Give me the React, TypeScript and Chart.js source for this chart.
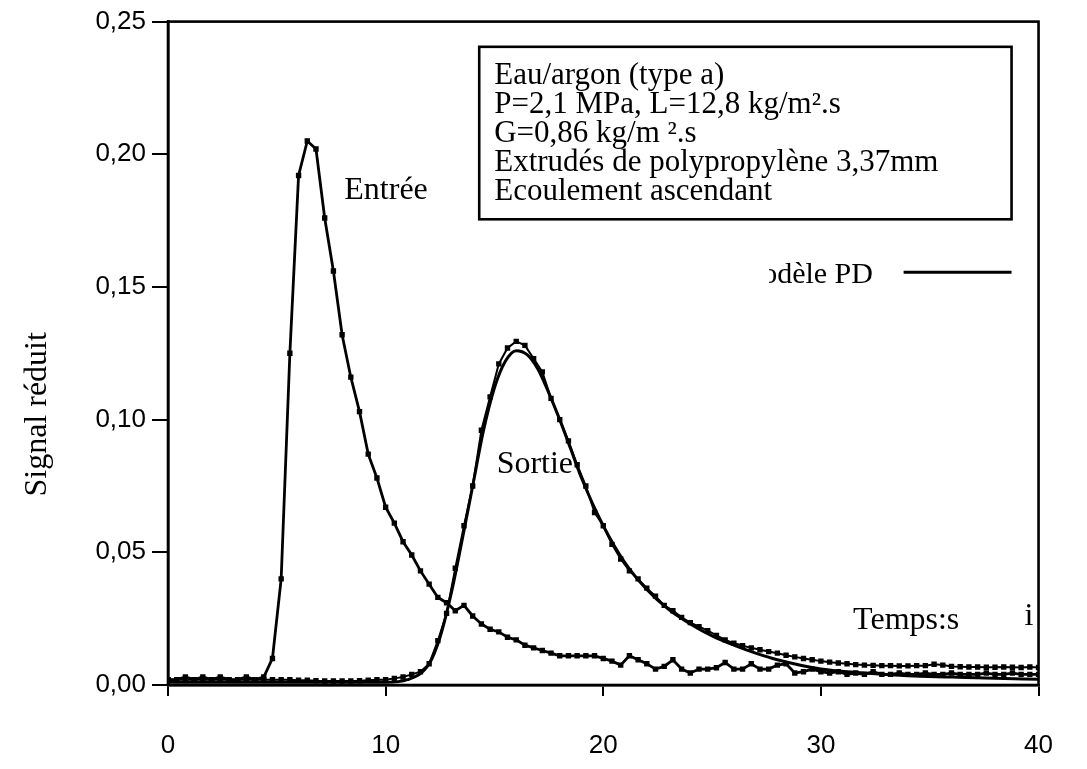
import React, { useEffect, useRef } from 'react';
import { Chart, registerables } from 'chart.js';

Chart.register(...registerables);

// Sampling grid of the measured signals (s)
const SAMPLE_STEP = 0.4;
const sampleTimes = Array.from({ length: 101 }, (_, i) => Math.round(i * SAMPLE_STEP * 10) / 10);

// Entrée (input) measured signal, one value per sample time
const entreeValues = [
  0.002, 0.002, 0.003, 0.002, 0.003, 0.002, 0.003, 0.002, 0.002, 0.003,
  0.002, 0.003, 0.010, 0.040, 0.125, 0.192, 0.205, 0.202, 0.176, 0.156,
  0.132, 0.116, 0.103, 0.087, 0.078, 0.067, 0.061, 0.054, 0.049, 0.043,
  0.038, 0.033, 0.031, 0.028, 0.030, 0.026, 0.023, 0.021, 0.020, 0.018,
  0.017, 0.015, 0.014, 0.013, 0.012, 0.011, 0.011, 0.011, 0.011, 0.011,
  0.010, 0.009, 0.0075, 0.011, 0.0095, 0.008, 0.006, 0.007, 0.0095, 0.006,
  0.0045, 0.006, 0.006, 0.0065, 0.0085, 0.006, 0.006, 0.008, 0.006, 0.006,
  0.0075, 0.008, 0.0045, 0.005, 0.006, 0.005, 0.0045, 0.005, 0.004, 0.0045,
  0.004, 0.005, 0.004, 0.004, 0.0045, 0.004, 0.004, 0.0045, 0.004, 0.004,
  0.0045, 0.004, 0.004, 0.004, 0.0045, 0.004, 0.004, 0.0045, 0.004, 0.004,
  0.004,
];

// Sortie (output) measured signal, one value per sample time
const sortieValues = [
  0.002, 0.002, 0.002, 0.002, 0.002, 0.002, 0.002, 0.002, 0.002, 0.002,
  0.002, 0.002, 0.002, 0.002, 0.002, 0.0018, 0.0018, 0.0016, 0.0015, 0.0015,
  0.0015, 0.0015, 0.0016, 0.0018, 0.002, 0.002, 0.0025, 0.003, 0.004, 0.005,
  0.008, 0.0167, 0.027, 0.044, 0.060, 0.075, 0.096, 0.1086, 0.121, 0.127,
  0.1295, 0.128, 0.123, 0.118, 0.108, 0.100, 0.092, 0.083, 0.075, 0.065,
  0.060, 0.053, 0.0475, 0.043, 0.040, 0.0365, 0.0335, 0.030, 0.028, 0.0255,
  0.0235, 0.022, 0.0205, 0.0187, 0.017, 0.0158, 0.0148, 0.014, 0.0133, 0.0126,
  0.012, 0.0112, 0.0106, 0.010, 0.0095, 0.009, 0.0086, 0.0083, 0.008, 0.0077,
  0.0075, 0.0074, 0.0073, 0.0073, 0.0072, 0.0072, 0.0073, 0.0073, 0.0078, 0.0075,
  0.007, 0.0069, 0.0068, 0.0068, 0.0067, 0.0067, 0.0068, 0.0067, 0.0066, 0.0068,
  0.0066,
];

// Modèle PD (model curve for the output)
const modelTimes = [0, 10, 11, 12, 12.5, 13, 13.5, 14, 14.5, 15, 15.5, 16, 16.5, 17, 17.5, 18, 18.5, 19, 20, 21, 22, 23, 24, 25, 26, 27, 28, 30, 32, 34, 36, 38, 40];
const modelValues = [0.001, 0.001, 0.002, 0.008, 0.018, 0.034, 0.054, 0.075, 0.096, 0.112, 0.122, 0.126, 0.1245, 0.119, 0.110, 0.100, 0.089, 0.078, 0.060, 0.046, 0.036, 0.0285, 0.023, 0.0185, 0.015, 0.012, 0.0095, 0.006, 0.0045, 0.0035, 0.003, 0.0025, 0.0022];

const xTickValues = [0, 10, 20, 30, 40];
const yTickValues = [0, 0.05, 0.1, 0.15, 0.2, 0.25];

const yTitle = 'Signal réduit';
const infoLines = [
  'Eau/argon (type a)',
  'P=2,1 MPa, L=12,8 kg/m².s',
  'G=0,86 kg/m ².s',
  'Extrudés de polypropylène 3,37mm',
  'Ecoulement ascendant',
];
const legendText = 'odèle PD';
const entreeLabel = 'Entrée';
const sortieLabel = 'Sortie';
const timeLabel = 'Temps:s';

const SERIF = '"Liberation Serif", "Times New Roman", serif';
const SANS = '"Liberation Sans", Arial, Helvetica, sans-serif';

const decorPlugin = {
  id: 'decor',
  afterDraw(chart: any) {
    const { ctx, chartArea: a, scales } = chart;
    const xs = scales.x;
    const ys = scales.y;
    const px = (v: number) => xs.getPixelForValue(v);
    const py = (v: number) => ys.getPixelForValue(v);
    ctx.save();
    ctx.strokeStyle = '#000';
    ctx.fillStyle = '#000';
    ctx.lineWidth = 2.6;
    ctx.strokeRect(a.left, a.top, a.right - a.left, a.bottom - a.top);

    // y-axis title
    ctx.save();
    ctx.font = `32px ${SERIF}`;
    ctx.translate(38, py(0.102));
    ctx.rotate(-Math.PI / 2);
    ctx.textAlign = 'center';
    ctx.textBaseline = 'middle';
    ctx.fillText(yTitle, 0, 0);
    ctx.restore();

    // curve labels
    ctx.font = `32px ${SERIF}`;
    ctx.textAlign = 'left';
    ctx.textBaseline = 'alphabetic';
    ctx.fillText(entreeLabel, px(8.1), py(0.183));
    ctx.fillText(sortieLabel, px(15.1), py(0.080));
    ctx.fillText(timeLabel, px(31.48), py(0.0211));
    ctx.fillText('i', px(39.35), py(0.0225));

    // info box
    const bl = px(14.3), br = px(38.76), bt = py(0.2405), bb = py(0.1755);
    ctx.lineWidth = 2.6;
    ctx.strokeRect(bl, bt, br - bl, bb - bt);
    ctx.font = `31px ${SERIF}`;
    infoLines.forEach((line, i) => {
      ctx.fillText(line, bl + 15, bt + 37 + i * 29);
    });

    // legend (partially hidden text + line sample)
    ctx.save();
    ctx.beginPath();
    ctx.rect(px(27.62), py(0.18), px(40) - px(27.62), py(0.12) - py(0.18));
    ctx.clip();
    ctx.font = `30px ${SERIF}`;
    ctx.fillText(legendText, px(27.3), py(0.1515));
    ctx.restore();
    ctx.beginPath();
    ctx.lineWidth = 3;
    ctx.moveTo(px(33.8), py(0.1555));
    ctx.lineTo(px(38.76), py(0.1555));
    ctx.stroke();
    ctx.restore();
  },
};

export default function App() {
  const canvasRef = useRef<HTMLCanvasElement | null>(null);

  useEffect(() => {
    if (!canvasRef.current) return;
    const entreeData = sampleTimes.map((t, i) => ({ x: t, y: entreeValues[i] }));
    const sortieData = sampleTimes.map((t, i) => ({ x: t, y: sortieValues[i] }));
    const modelData = modelTimes.map((t, i) => ({ x: t, y: modelValues[i] }));

    const chart = new Chart(canvasRef.current, {
      type: 'scatter',
      data: {
        datasets: [
          {
            label: 'Modèle PD',
            data: modelData,
            showLine: true,
            borderColor: '#000',
            borderWidth: 3,
            pointRadius: 0,
            cubicInterpolationMode: 'monotone',
            order: 3,
          },
          {
            label: 'Sortie',
            data: sortieData,
            showLine: true,
            borderColor: '#000',
            borderWidth: 2,
            pointStyle: 'rect',
            pointRadius: 3.8,
            pointBackgroundColor: '#000',
            pointBorderColor: '#000',
            pointBorderWidth: 0,
            order: 2,
          },
          {
            label: 'Entrée',
            data: entreeData,
            showLine: true,
            borderColor: '#000',
            borderWidth: 2.8,
            pointStyle: 'rect',
            pointRadius: 3.8,
            pointBackgroundColor: '#000',
            pointBorderColor: '#000',
            pointBorderWidth: 0,
            order: 1,
          },
        ],
      },
      options: {
        animation: false,
        responsive: true,
        maintainAspectRatio: false,
        layout: { padding: { top: 18, right: 38, left: 0, bottom: 0 } },
        plugins: {
          legend: { display: false },
          tooltip: { enabled: false },
          title: { display: false },
        },
        scales: {
          x: {
            type: 'linear',
            min: 0,
            max: 40,
            afterBuildTicks: (scale: any) => {
              scale.ticks = xTickValues.map((v) => ({ value: v }));
            },
            afterFit: (scale: any) => {
              scale.height = 84;
            },
            ticks: {
              color: '#000',
              font: { family: SANS, size: 26 },
              padding: 34,
              maxRotation: 0,
              callback: (v: any) => String(v),
            },
            grid: {
              display: true,
              drawOnChartArea: false,
              drawTicks: true,
              tickLength: 11,
              color: '#000',
              lineWidth: 2,
            },
            border: { display: true, color: '#000', width: 2.6 },
          },
          y: {
            type: 'linear',
            min: 0,
            max: 0.25,
            afterBuildTicks: (scale: any) => {
              scale.ticks = yTickValues.map((v) => ({ value: v }));
            },
            afterFit: (scale: any) => {
              scale.width = 168;
            },
            ticks: {
              color: '#000',
              font: { family: SANS, size: 26 },
              padding: 6,
              callback: (v: any) => Number(v).toFixed(2).replace('.', ','),
            },
            grid: {
              display: true,
              drawOnChartArea: false,
              drawTicks: true,
              tickLength: 16,
              color: '#000',
              lineWidth: 2,
            },
            border: { display: true, color: '#000', width: 2.6 },
          },
        },
      } as any,
      plugins: [decorPlugin],
    });
    return () => chart.destroy();
  }, []);

  return (
    <div style={{ position: 'fixed', left: 0, top: 0, width: 1087, height: 769, background: '#fff' }}>
      <canvas ref={canvasRef} />
    </div>
  );
}
